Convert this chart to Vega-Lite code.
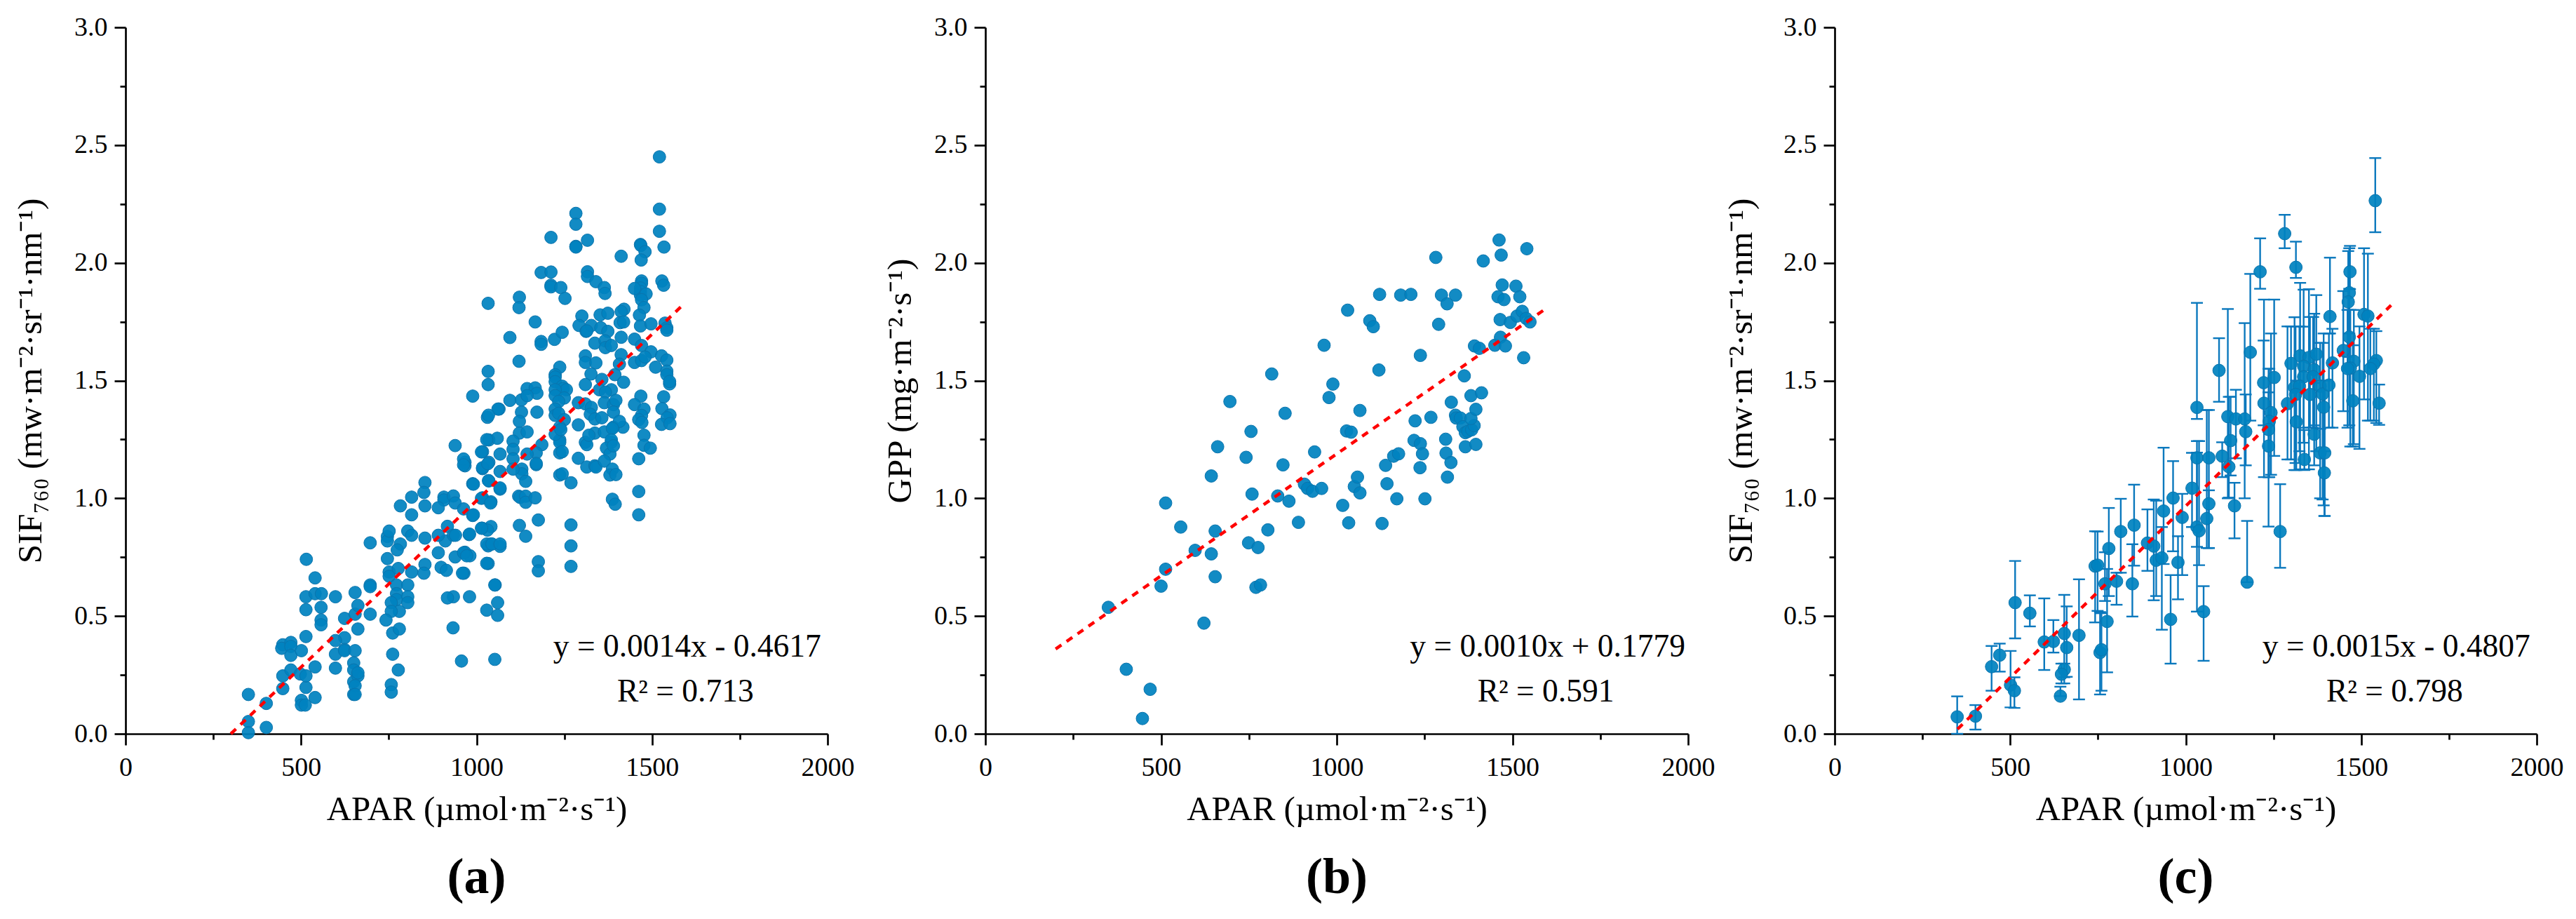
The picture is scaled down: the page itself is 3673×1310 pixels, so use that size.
{"$schema":"https://vega.github.io/schema/vega-lite/v6.json","background":"white","padding":{"left":19,"top":20,"right":5,"bottom":5},"bounds":"flush","spacing":209,
"config":{"view":{"stroke":null},"font":"Liberation Serif","axis":{"grid":false,"domainColor":"#000","domainWidth":2.7,"tickColor":"#000","tickWidth":2.7,"labelColor":"#000","titleColor":"#000","labelFont":"Liberation Serif","titleFont":"Liberation Serif","labelFontSize":38,"titleFontSize":49,"titleFontWeight":"normal","labelOverlap":false,"labelFlush":false},"title":{"font":"Liberation Serif","fontSize":72,"fontWeight":"bold","color":"#000"}},
"datasets":{
"a":[{"x":1521,"y":2.45},{"x":1521,"y":2.228},{"x":1521,"y":2.134},{"x":1534,"y":2.067},{"x":1283,"y":2.21},{"x":1283,"y":2.164},{"x":1212,"y":2.108},{"x":1316,"y":2.096},{"x":1283,"y":2.07},{"x":1283,"y":2.067},{"x":1412,"y":2.028},{"x":1467,"y":2.078},{"x":1468,"y":2.074},{"x":1480,"y":2.047},{"x":1469,"y":2.012},{"x":1184,"y":1.959},{"x":1212,"y":1.961},{"x":1316,"y":1.962},{"x":1316,"y":1.942},{"x":1340,"y":1.92},{"x":1364,"y":1.895},{"x":1366,"y":1.87},{"x":1212,"y":1.905},{"x":1212,"y":1.898},{"x":1240,"y":1.895},{"x":1252,"y":1.849},{"x":1122,"y":1.854},{"x":1121,"y":1.81},{"x":1033,"y":1.828},{"x":1167,"y":1.749},{"x":1095,"y":1.683},{"x":1184,"y":1.666},{"x":1184,"y":1.654},{"x":1222,"y":1.675},{"x":1244,"y":1.705},{"x":1121,"y":1.582},{"x":1033,"y":1.539},{"x":1033,"y":1.483},{"x":989,"y":1.434},{"x":1237,"y":1.557},{"x":1224,"y":1.525},{"x":1224,"y":1.515},{"x":1144,"y":1.466},{"x":1167,"y":1.469},{"x":1172,"y":1.446},{"x":1095,"y":1.416},{"x":1128,"y":1.418},{"x":1144,"y":1.436},{"x":1064,"y":1.379},{"x":1061,"y":1.379},{"x":1031,"y":1.344},{"x":1128,"y":1.366},{"x":1172,"y":1.366},{"x":1122,"y":1.327},{"x":1122,"y":1.277},{"x":1144,"y":1.282},
{"x":1300,"y":1.774},{"x":1352,"y":1.779},{"x":1374,"y":1.786},{"x":1420,"y":1.803},{"x":1412,"y":1.793},{"x":1409,"y":1.746},{"x":1419,"y":1.749},{"x":1292,"y":1.734},{"x":1312,"y":1.709},{"x":1327,"y":1.734},{"x":1314,"y":1.711},{"x":1354,"y":1.724},{"x":1374,"y":1.709},{"x":1337,"y":1.659},{"x":1366,"y":1.669},{"x":1367,"y":1.64},{"x":1384,"y":1.649},{"x":1412,"y":1.684},{"x":1450,"y":1.676},{"x":1470,"y":1.649},{"x":1497,"y":1.622},{"x":1527,"y":1.605},{"x":1310,"y":1.605},{"x":1310,"y":1.577},{"x":1340,"y":1.575},{"x":1412,"y":1.61},{"x":1407,"y":1.57},{"x":1450,"y":1.577},{"x":1470,"y":1.585},{"x":1480,"y":1.6},{"x":1510,"y":1.557},{"x":1542,"y":1.587},{"x":1542,"y":1.54},{"x":1542,"y":1.525},{"x":1550,"y":1.486},{"x":1550,"y":1.496},{"x":1326,"y":1.528},{"x":1310,"y":1.483},{"x":1357,"y":1.505},{"x":1394,"y":1.525},{"x":1419,"y":1.493},{"x":1350,"y":1.461},{"x":1384,"y":1.461},{"x":1367,"y":1.451},{"x":1364,"y":1.406},{"x":1390,"y":1.398},{"x":1397,"y":1.416},{"x":1290,"y":1.406},{"x":1310,"y":1.401},{"x":1327,"y":1.386},{"x":1324,"y":1.357},{"x":1337,"y":1.337},{"x":1357,"y":1.342},{"x":1390,"y":1.366},{"x":1290,"y":1.312},{"x":1390,"y":1.302},{"x":1417,"y":1.302},{"x":1407,"y":1.327},{"x":1337,"y":1.277},{"x":1364,"y":1.282},
{"x":1224,"y":1.495},{"x":1244,"y":1.476},{"x":1247,"y":1.466},{"x":1256,"y":1.461},{"x":1224,"y":1.461},{"x":1224,"y":1.436},{"x":1250,"y":1.426},{"x":1234,"y":1.411},{"x":1224,"y":1.379},{"x":1224,"y":1.352},{"x":1234,"y":1.361},{"x":1250,"y":1.334},{"x":1237,"y":1.302},{"x":1468,"y":1.434},{"x":1450,"y":1.398},{"x":1477,"y":1.379},{"x":1470,"y":1.352},{"x":1462,"y":1.334},{"x":1471,"y":1.322},{"x":1533,"y":1.431},{"x":1528,"y":1.381},{"x":1551,"y":1.354},{"x":1543,"y":1.342},{"x":1527,"y":1.314},{"x":1551,"y":1.317},
{"x":1470,"y":1.923},{"x":1470,"y":1.913},{"x":1467,"y":1.893},{"x":1467,"y":1.878},{"x":1467,"y":1.863},{"x":1450,"y":1.891},{"x":1483,"y":1.868},{"x":1470,"y":1.843},{"x":1477,"y":1.81},{"x":1464,"y":1.778},{"x":1467,"y":1.732},{"x":1497,"y":1.741},{"x":1537,"y":1.744},{"x":1542,"y":1.724},{"x":1542,"y":1.714},{"x":1528,"y":1.923},{"x":1533,"y":1.905},
{"x":1477,"y":1.268},{"x":1477,"y":1.225},{"x":1495,"y":1.213},{"x":1462,"y":1.168},{"x":1462,"y":1.029},{"x":1462,"y":0.93},{"x":1387,"y":0.996},{"x":1395,"y":0.975},{"x":1269,"y":0.887},{"x":1269,"y":0.798},{"x":1269,"y":0.711},{"x":1176,"y":0.908},{"x":1122,"y":0.885},{"x":1140,"y":0.839},{"x":1176,"y":0.731},{"x":1176,"y":0.692},{"x":1033,"y":0.723},{"x":1053,"y":0.632},{"x":1041,"y":0.88},{"x":1016,"y":0.873},{"x":1031,"y":0.865},{"x":979,"y":0.846},{"x":1033,"y":0.798},{"x":1041,"y":0.806},{"x":1067,"y":0.796},{"x":981,"y":0.756},{"x":967,"y":0.771},{"x":964,"y":0.682},
{"x":1290,"y":1.17},{"x":1314,"y":1.133},{"x":1337,"y":1.138},{"x":1340,"y":1.133},{"x":1310,"y":1.238},{"x":1314,"y":1.228},{"x":1320,"y":1.268},{"x":1387,"y":1.297},{"x":1384,"y":1.238},{"x":1384,"y":1.248},{"x":1370,"y":1.213},{"x":1380,"y":1.188},{"x":1364,"y":1.158},{"x":1390,"y":1.223},{"x":1387,"y":1.124},{"x":1380,"y":1.099},{"x":1397,"y":1.101},{"x":1237,"y":1.248},{"x":1237,"y":1.238},{"x":1237,"y":1.193},{"x":1244,"y":1.198},{"x":1224,"y":1.272},{"x":1240,"y":1.292},{"x":1237,"y":1.099},{"x":1244,"y":1.104},{"x":1269,"y":1.066},{"x":1186,"y":1.228},{"x":1170,"y":1.193},{"x":1144,"y":1.188},{"x":1170,"y":1.143},{"x":1170,"y":1.148},{"x":1129,"y":1.124},{"x":1129,"y":1.104},{"x":1140,"y":1.072},{"x":1104,"y":1.243},{"x":1104,"y":1.208},{"x":1104,"y":1.168},{"x":1104,"y":1.124},{"x":1067,"y":1.188},{"x":1035,"y":1.248},{"x":1059,"y":1.255},{"x":1017,"y":1.198},{"x":1035,"y":1.153},{"x":1017,"y":1.126},{"x":1067,"y":1.114},{"x":1067,"y":1.039},{"x":1067,"y":1.044},{"x":1035,"y":1.074},{"x":989,"y":1.062},{"x":1017,"y":1.002},{"x":1041,"y":0.985},{"x":967,"y":1.153},{"x":967,"y":1.138},{"x":989,"y":0.927},{"x":1120,"y":1.009},{"x":1124,"y":1.004},{"x":1140,"y":1.009},{"x":1140,"y":0.983},{"x":1167,"y":1.002},
{"x":350,"y":0.167},{"x":350,"y":0.052},{"x":350,"y":0.005},{"x":401,"y":0.129},{"x":401,"y":0.027},{"x":448,"y":0.378},{"x":445,"y":0.363},{"x":471,"y":0.388},{"x":471,"y":0.371},{"x":471,"y":0.333},{"x":448,"y":0.246},{"x":448,"y":0.192},{"x":471,"y":0.271},{"x":498,"y":0.254},{"x":501,"y":0.353},{"x":501,"y":0.142},{"x":501,"y":0.122},{"x":512,"y":0.122},{"x":514,"y":0.197},{"x":514,"y":0.246},{"x":515,"y":0.741},{"x":540,"y":0.662},{"x":514,"y":0.582},{"x":514,"y":0.527},{"x":540,"y":0.595},{"x":558,"y":0.595},{"x":557,"y":0.537},{"x":557,"y":0.483},{"x":557,"y":0.463},{"x":514,"y":0.413},{"x":540,"y":0.284},{"x":540,"y":0.154},{"x":598,"y":0.582},{"x":624,"y":0.49},{"x":624,"y":0.408},{"x":598,"y":0.396},{"x":598,"y":0.338},{"x":598,"y":0.279},{"x":624,"y":0.358},{"x":624,"y":0.353},{"x":654,"y":0.6},{"x":654,"y":0.508},{"x":662,"y":0.545},{"x":662,"y":0.445},{"x":654,"y":0.353},{"x":650,"y":0.301},{"x":650,"y":0.271},{"x":650,"y":0.221},{"x":650,"y":0.167},{"x":662,"y":0.246},{"x":662,"y":0.259},{"x":654,"y":0.204},{"x":654,"y":0.167},{"x":697,"y":0.632},{"x":697,"y":0.625},{"x":697,"y":0.508},{"x":697,"y":0.811},{"x":746,"y":0.838},{"x":746,"y":0.819},{"x":751,"y":0.861},{"x":746,"y":0.744},{"x":751,"y":0.687},{"x":751,"y":0.669},{"x":783,"y":0.968},{"x":783,"y":0.806},{"x":774,"y":0.781},{"x":777,"y":0.702},{"x":772,"y":0.632},{"x":772,"y":0.595},{"x":772,"y":0.57},{"x":780,"y":0.52},{"x":757,"y":0.557},{"x":757,"y":0.52},{"x":742,"y":0.483},{"x":761,"y":0.428},{"x":780,"y":0.445},{"x":761,"y":0.338},{"x":777,"y":0.271},{"x":757,"y":0.209},{"x":757,"y":0.177},{"x":804,"y":0.861},{"x":815,"y":0.843},{"x":815,"y":1.005},{"x":815,"y":0.93},{"x":804,"y":0.632},{"x":804,"y":0.582},{"x":804,"y":0.557},{"x":815,"y":0.687},{"x":853,"y":1.067},{"x":850,"y":1.025},{"x":853,"y":0.968},{"x":853,"y":0.831},{"x":853,"y":0.719},{"x":850,"y":0.682},{"x":907,"y":1.005},{"x":907,"y":0.993},{"x":934,"y":1.01},{"x":917,"y":0.881},{"x":911,"y":0.819},{"x":934,"y":0.843},{"x":940,"y":0.843},{"x":891,"y":0.843},{"x":891,"y":0.96},{"x":891,"y":0.769},{"x":899,"y":0.707},{"x":914,"y":0.694},{"x":939,"y":0.98},{"x":939,"y":1.224},{"x":939,"y":0.751},{"x":960,"y":0.682},{"x":963,"y":1.167},{"x":963,"y":1.142},{"x":934,"y":0.582},{"x":917,"y":0.577},{"x":933,"y":0.45},{"x":957,"y":0.309},{"x":963,"y":0.769},{"x":972,"y":0.756},{"x":980,"y":0.582},{"x":963,"y":0.955},{"x":991,"y":1.06},{"x":991,"y":0.93},{"x":980,"y":0.848},{"x":1014,"y":1.197},{"x":1017,"y":1.13},{"x":1014,"y":1.0},{"x":1014,"y":0.873},{"x":1032,"y":1.147},{"x":1029,"y":1.249},{"x":1034,"y":1.353},{"x":1029,"y":0.724},{"x":1029,"y":0.806},{"x":1044,"y":0.806},{"x":1029,"y":0.525},{"x":1040,"y":0.98},{"x":1034,"y":1.075},{"x":1052,"y":0.632},{"x":1052,"y":0.316},{"x":1060,"y":0.557},{"x":1060,"y":0.503},{"x":1067,"y":0.806}],
"b":[{"x":350,"y":0.537},{"x":401,"y":0.274},{"x":469,"y":0.189},{"x":447,"y":0.065},{"x":513,"y":0.98},{"x":513,"y":0.699},{"x":500,"y":0.627},{"x":556,"y":0.878},{"x":597,"y":0.779},{"x":622,"y":0.47},{"x":643,"y":1.095},{"x":643,"y":0.764},{"x":661,"y":1.219},{"x":654,"y":0.861},{"x":654,"y":0.667},{"x":696,"y":1.411},{"x":742,"y":1.174},{"x":756,"y":1.284},{"x":759,"y":1.018},{"x":749,"y":0.811},{"x":776,"y":0.791},{"x":770,"y":0.622},{"x":783,"y":0.632},{"x":815,"y":1.528},{"x":804,"y":0.866},{"x":832,"y":1.01},{"x":847,"y":1.142},{"x":853,"y":1.361},{"x":864,"y":0.988},{"x":891,"y":0.898},{"x":908,"y":1.06},{"x":917,"y":1.042},{"x":931,"y":1.03},{"x":937,"y":1.197},{"x":957,"y":1.042},{"x":964,"y":1.65},{"x":978,"y":1.428},{"x":989,"y":1.485},{"x":1017,"y":0.97},{"x":1034,"y":0.896},{"x":1031,"y":1.799},{"x":1028,"y":1.286},{"x":1041,"y":1.281},{"x":1050,"y":1.05},{"x":1059,"y":1.09},{"x":1066,"y":1.023},{"x":1066,"y":1.373},{"x":1094,"y":1.754},{"x":1104,"y":1.729},{"x":1122,"y":1.866},{"x":1120,"y":1.545},{"x":1129,"y":0.893},{"x":1139,"y":1.14},{"x":1143,"y":1.062},{"x":1162,"y":1.179},{"x":1176,"y":1.189},{"x":1171,"y":0.998},{"x":1182,"y":1.863},{"x":1211,"y":1.866},{"x":1223,"y":1.329},{"x":1220,"y":1.246},{"x":1238,"y":1.232},{"x":1244,"y":1.189},{"x":1237,"y":1.13},{"x":1251,"y":0.998},{"x":1238,"y":1.607},{"x":1268,"y":1.344},{"x":1282,"y":2.023},{"x":1290,"y":1.739},{"x":1298,"y":1.863},{"x":1314,"y":1.826},{"x":1338,"y":1.863},{"x":1310,"y":1.251},{"x":1311,"y":1.192},{"x":1325,"y":1.152},{"x":1315,"y":1.09},{"x":1326,"y":1.408},{"x":1338,"y":1.353},{"x":1340,"y":1.341},{"x":1352,"y":1.341},{"x":1363,"y":1.52},{"x":1359,"y":1.304},{"x":1366,"y":1.279},{"x":1373,"y":1.284},{"x":1384,"y":1.291},{"x":1391,"y":1.309},{"x":1382,"y":1.339},{"x":1366,"y":1.219},{"x":1396,"y":1.229},{"x":1382,"y":1.436},{"x":1396,"y":1.378},{"x":1412,"y":1.448},{"x":1392,"y":1.647},{"x":1406,"y":1.637},{"x":1417,"y":2.008},{"x":1450,"y":1.65},{"x":1462,"y":2.097},{"x":1468,"y":2.033},{"x":1471,"y":1.906},{"x":1459,"y":1.856},{"x":1476,"y":1.844},{"x":1465,"y":1.759},{"x":1466,"y":1.684},{"x":1480,"y":1.647},{"x":1510,"y":1.901},{"x":1521,"y":1.856},{"x":1494,"y":1.747},{"x":1513,"y":1.774},{"x":1528,"y":1.794},{"x":1541,"y":2.06},{"x":1532,"y":1.597},{"x":1539,"y":1.764},{"x":1550,"y":1.749}],
"c":[{"x":349,"y":0.072,"lo":0.0,"hi":0.159},{"x":401,"y":0.075,"lo":0.018,"hi":0.122},{"x":447,"y":0.285,"lo":0.183,"hi":0.373},{"x":470,"y":0.334,"lo":0.264,"hi":0.383},{"x":501,"y":0.207,"lo":0.112,"hi":0.352},{"x":512,"y":0.183,"lo":0.11,"hi":0.24},{"x":514,"y":0.557,"lo":0.405,"hi":0.734},{"x":556,"y":0.512,"lo":0.456,"hi":0.588},{"x":597,"y":0.39,"lo":0.271,"hi":0.575},{"x":623,"y":0.392,"lo":0.345,"hi":0.483},{"x":654,"y":0.426,"lo":0.24,"hi":0.59},{"x":661,"y":0.366,"lo":0.242,"hi":0.541},{"x":654,"y":0.273,"lo":0.214,"hi":0.298},{"x":646,"y":0.253,"lo":0.214,"hi":0.298},{"x":643,"y":0.16,"lo":0.16,"hi":0.2},{"x":696,"y":0.418,"lo":0.146,"hi":0.656},{"x":742,"y":0.712,"lo":0.473,"hi":0.86},{"x":749,"y":0.716,"lo":0.522,"hi":0.859},{"x":756,"y":0.345,"lo":0.167,"hi":0.517},{"x":760,"y":0.357,"lo":0.183,"hi":0.512},{"x":776,"y":0.477,"lo":0.261,"hi":0.7},{"x":770,"y":0.637,"lo":0.564,"hi":0.771},{"x":781,"y":0.787,"lo":0.585,"hi":0.959},{"x":803,"y":0.648,"lo":0.548,"hi":0.684},{"x":815,"y":0.859,"lo":0.684,"hi":0.998},{"x":848,"y":0.637,"lo":0.498,"hi":0.805},{"x":853,"y":0.886,"lo":0.714,"hi":1.058},{"x":891,"y":0.81,"lo":0.692,"hi":0.953},{"x":909,"y":0.797,"lo":0.567,"hi":0.995},{"x":916,"y":0.737,"lo":0.585,"hi":0.99},{"x":932,"y":0.747,"lo":0.442,"hi":0.878},{"x":937,"y":0.946,"lo":0.721,"hi":1.215},{"x":964,"y":1.001,"lo":0.775,"hi":1.158},{"x":957,"y":0.486,"lo":0.298,"hi":0.674},{"x":978,"y":0.728,"lo":0.571,"hi":0.839},{"x":990,"y":0.919,"lo":0.674,"hi":1.019},{"x":1018,"y":1.043,"lo":0.878,"hi":1.193},{"x":1032,"y":0.878,"lo":0.519,"hi":1.194},{"x":1038,"y":0.862,"lo":0.716,"hi":1.243},{"x":1032,"y":1.386,"lo":1.337,"hi":1.83},{"x":1032,"y":1.172,"lo":0.794,"hi":1.243},{"x":1066,"y":1.172,"lo":0.789,"hi":1.375},{"x":1066,"y":0.977,"lo":0.789,"hi":1.034},{"x":1060,"y":0.914,"lo":0.789,"hi":1.375},{"x":1051,"y":0.519,"lo":0.31,"hi":0.627},{"x":1104,"y":1.179,"lo":1.09,"hi":1.238},{"x":1123,"y":1.134,"lo":1.003,"hi":1.431},{"x":1128,"y":1.245,"lo":1.097,"hi":1.431},{"x":1095,"y":1.543,"lo":1.41,"hi":1.68},{"x":1120,"y":1.347,"lo":1.0,"hi":1.804},{"x":1139,"y":0.968,"lo":0.83,"hi":1.066},{"x":1143,"y":1.337,"lo":1.17,"hi":1.461},{"x":1168,"y":1.337,"lo":1.0,"hi":1.744},{"x":1171,"y":1.283,"lo":1.14,"hi":1.441},{"x":1184,"y":1.62,"lo":1.33,"hi":1.953},{"x":1175,"y":0.644,"lo":0.644,"hi":0.904},{"x":1269,"y":0.859,"lo":0.705,"hi":1.06},{"x":1540,"y":2.264,"lo":2.13,"hi":2.445},{"x":1282,"y":2.124,"lo":2.062,"hi":2.204},{"x":1314,"y":1.981,"lo":1.936,"hi":2.09},{"x":1212,"y":1.962,"lo":1.89,"hi":2.104},{"x":1468,"y":1.962,"lo":1.888,"hi":2.072},{"x":1466,"y":1.873,"lo":1.7,"hi":2.062},{"x":1463,"y":1.834,"lo":1.6,"hi":2.05},{"x":1411,"y":1.772,"lo":1.7,"hi":2.022},{"x":1508,"y":1.781,"lo":1.42,"hi":2.062},{"x":1519,"y":1.774,"lo":1.33,"hi":2.039},{"x":1466,"y":1.685,"lo":1.31,"hi":1.89},{"x":1449,"y":1.628,"lo":1.37,"hi":1.88},{"x":1418,"y":1.575,"lo":1.3,"hi":1.72},{"x":1479,"y":1.582,"lo":1.23,"hi":1.8},{"x":1469,"y":1.553,"lo":1.22,"hi":1.8},{"x":1461,"y":1.551,"lo":1.3,"hi":1.8},{"x":1495,"y":1.518,"lo":1.21,"hi":1.73},{"x":1543,"y":1.585,"lo":1.32,"hi":1.71},{"x":1536,"y":1.57,"lo":1.33,"hi":1.72},{"x":1526,"y":1.551,"lo":1.33,"hi":1.72},{"x":1551,"y":1.404,"lo":1.312,"hi":1.483},{"x":1476,"y":1.414,"lo":1.22,"hi":1.65},{"x":1326,"y":1.605,"lo":1.123,"hi":1.915},{"x":1351,"y":1.598,"lo":1.123,"hi":1.888},{"x":1372,"y":1.612,"lo":1.2,"hi":1.863},{"x":1300,"y":1.573,"lo":1.165,"hi":1.73},{"x":1336,"y":1.561,"lo":1.236,"hi":1.886},{"x":1366,"y":1.546,"lo":1.31,"hi":1.784},{"x":1336,"y":1.516,"lo":1.3,"hi":1.729},{"x":1363,"y":1.516,"lo":1.3,"hi":1.77},{"x":1222,"y":1.491,"lo":1.31,"hi":1.67},{"x":1252,"y":1.513,"lo":1.18,"hi":1.844},{"x":1223,"y":1.404,"lo":1.09,"hi":1.844},{"x":1243,"y":1.364,"lo":1.1,"hi":1.7},{"x":1238,"y":1.327,"lo":1.09,"hi":1.55},{"x":1236,"y":1.222,"lo":0.88,"hi":1.55},{"x":1236,"y":1.292,"lo":1.09,"hi":1.45},{"x":1290,"y":1.402,"lo":1.165,"hi":1.73},{"x":1310,"y":1.471,"lo":1.12,"hi":1.769},{"x":1324,"y":1.476,"lo":1.2,"hi":1.73},{"x":1313,"y":1.441,"lo":1.15,"hi":1.73},{"x":1354,"y":1.441,"lo":1.3,"hi":1.77},{"x":1383,"y":1.476,"lo":1.295,"hi":1.66},{"x":1390,"y":1.443,"lo":0.995,"hi":1.66},{"x":1408,"y":1.481,"lo":1.3,"hi":1.7},{"x":1393,"y":1.387,"lo":0.97,"hi":1.7},{"x":1315,"y":1.325,"lo":1.12,"hi":1.5},{"x":1366,"y":1.272,"lo":1.14,"hi":1.49},{"x":1338,"y":1.165,"lo":1.12,"hi":1.29},{"x":1383,"y":1.193,"lo":1.0,"hi":1.46},{"x":1396,"y":1.193,"lo":0.925,"hi":1.5},{"x":1395,"y":1.108,"lo":0.925,"hi":1.2}],
"fa":[{"x":300,"y":0},{"x":1587,"y":1.82}],"fb":[{"x":200,"y":0.36},{"x":1590,"y":1.8}],"fc":[{"x":350,"y":0.02},{"x":1585,"y":1.82}],
"ta":[{"x":1600,"y":0.37,"t":"y = 0.0014x - 0.4617"},{"x":1595,"y":0.18,"t":"R² = 0.713"}],
"tb":[{"x":1600,"y":0.37,"t":"y = 0.0010x + 0.1779"},{"x":1595,"y":0.18,"t":"R² = 0.591"}],
"tc":[{"x":1600,"y":0.37,"t":"y = 0.0015x - 0.4807"},{"x":1595,"y":0.18,"t":"R² = 0.798"}]
},
"hconcat":[
{"width":1017,"height":1007,"title":{"text":"(a)","orient":"bottom","offset":38,"dx":-8},
"encoding":{"x":{"field":"x","type":"quantitative","scale":{"domain":[0,2000],"nice":false,"range":[0,1001]},"axis":{"values":[0,250,500,750,1000,1250,1500,1750,2000],"labelExpr":"datum.value%500===0?format(datum.value,'d'):''","tickSize":{"condition":{"test":"datum.value%500===0","value":16},"value":8},"labelPadding":13,"title":"APAR (µmol·m⁻²·s⁻¹)","titlePadding":16}},"y":{"field":"y","type":"quantitative","scale":{"domain":[0,3],"nice":false},"axis":{"values":[0,0.25,0.5,0.75,1,1.25,1.5,1.75,2,2.25,2.5,2.75,3],"labelExpr":"round(datum.value*100)%50===0?format(datum.value,'.1f'):''","tickSize":{"condition":{"test":"round(datum.value*100)%50===0","value":16},"value":8},"labelPadding":10,"title":"SIF₇₆₀ (mw·m⁻²·sr⁻¹·nm⁻¹)","titlePadding":37}}},
"layer":[{"data":{"name":"a"},"mark":{"type":"point","filled":true,"fill":"#0082c0","fillOpacity":0.93,"stroke":"#0a74ad","strokeWidth":1,"size":320}},{"data":{"name":"fa"},"mark":{"type":"line","color":"#ff0000","strokeWidth":4.5,"strokeDash":[10,9]}},{"data":{"name":"ta"},"mark":{"type":"text","fontSize":45.5,"font":"Liberation Serif","color":"#000"},"encoding":{"text":{"field":"t"}}}]},
{"width":1002,"height":1007,"title":{"text":"(b)","orient":"bottom","offset":38},
"encoding":{"x":{"field":"x","type":"quantitative","scale":{"domain":[0,2000],"nice":false},"axis":{"values":[0,250,500,750,1000,1250,1500,1750,2000],"labelExpr":"datum.value%500===0?format(datum.value,'d'):''","tickSize":{"condition":{"test":"datum.value%500===0","value":16},"value":8},"labelPadding":13,"title":"APAR (µmol·m⁻²·s⁻¹)","titlePadding":16}},"y":{"field":"y","type":"quantitative","scale":{"domain":[0,3],"nice":false},"axis":{"values":[0,0.25,0.5,0.75,1,1.25,1.5,1.75,2,2.25,2.5,2.75,3],"labelExpr":"round(datum.value*100)%50===0?format(datum.value,'.1f'):''","tickSize":{"condition":{"test":"round(datum.value*100)%50===0","value":16},"value":8},"labelPadding":10,"title":"GPP (mg·m⁻²·s⁻¹)","titlePadding":23}}},
"layer":[{"data":{"name":"b"},"mark":{"type":"point","filled":true,"fill":"#0082c0","fillOpacity":0.93,"stroke":"#0a74ad","strokeWidth":1,"size":320}},{"data":{"name":"fb"},"mark":{"type":"line","color":"#ff0000","strokeWidth":4.5,"strokeDash":[10,9]}},{"data":{"name":"tb"},"mark":{"type":"text","fontSize":45.5,"font":"Liberation Serif","color":"#000"},"encoding":{"text":{"field":"t"}}}]},
{"width":1001,"height":1007,"title":{"text":"(c)","orient":"bottom","offset":38},
"encoding":{"x":{"field":"x","type":"quantitative","scale":{"domain":[0,2000],"nice":false},"axis":{"values":[0,250,500,750,1000,1250,1500,1750,2000],"labelExpr":"datum.value%500===0?format(datum.value,'d'):''","tickSize":{"condition":{"test":"datum.value%500===0","value":16},"value":8},"labelPadding":13,"title":"APAR (µmol·m⁻²·s⁻¹)","titlePadding":16}},"y":{"field":"y","type":"quantitative","scale":{"domain":[0,3],"nice":false},"axis":{"values":[0,0.25,0.5,0.75,1,1.25,1.5,1.75,2,2.25,2.5,2.75,3],"labelExpr":"round(datum.value*100)%50===0?format(datum.value,'.1f'):''","tickSize":{"condition":{"test":"round(datum.value*100)%50===0","value":16},"value":8},"labelPadding":10,"title":"SIF₇₆₀ (mw·m⁻²·sr⁻¹·nm⁻¹)","titlePadding":35}}},
"layer":[{"data":{"name":"c"},"mark":{"type":"rule","color":"#0a78bd","strokeWidth":2.4},"encoding":{"y":{"field":"lo","type":"quantitative"},"y2":{"field":"hi"}}},{"data":{"name":"c"},"mark":{"type":"tick","orient":"horizontal","color":"#0a78bd","size":17,"thickness":2.4,"opacity":1},"encoding":{"y":{"field":"lo","type":"quantitative"}}},{"data":{"name":"c"},"mark":{"type":"tick","orient":"horizontal","color":"#0a78bd","size":17,"thickness":2.4,"opacity":1},"encoding":{"y":{"field":"hi","type":"quantitative"}}},{"data":{"name":"c"},"mark":{"type":"point","filled":true,"fill":"#0082c0","fillOpacity":0.93,"stroke":"#0a74ad","strokeWidth":1,"size":320}},{"data":{"name":"fc"},"mark":{"type":"line","color":"#ff0000","strokeWidth":4.5,"strokeDash":[10,9]}},{"data":{"name":"tc"},"mark":{"type":"text","fontSize":45.5,"font":"Liberation Serif","color":"#000"},"encoding":{"text":{"field":"t"}}}]}
]}
